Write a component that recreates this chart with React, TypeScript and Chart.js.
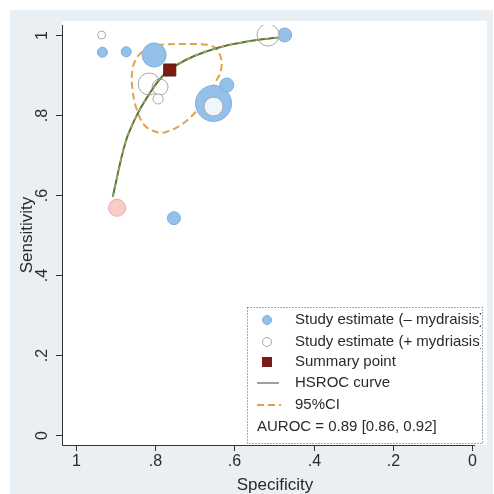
import React, { useEffect, useRef } from "react";
import { Chart, registerables } from "chart.js";

Chart.register(...registerables);

// ---- data ----
const xTickValues = [1, 0.8, 0.6, 0.4, 0.2, 0];
const xTickLabels = ["1", ".8", ".6", ".4", ".2", "0"];
const yTickValues = [0, 0.2, 0.4, 0.6, 0.8, 1];
const yTickLabels = ["0", ".2", ".4", ".6", ".8", "1"];

// Study estimates without mydriasis (blue)
const blueSpec = [0.473, 0.933, 0.873, 0.8025, 0.6525, 0.619, 0.7525];
const blueSens = [1.0, 0.957, 0.958, 0.95, 0.829, 0.875, 0.542];
const blueSize = [7, 5, 5, 12, 18, 7, 6.5];

// Study estimates with mydriasis (hollow)
const hollowSpec = [0.515, 0.935, 0.815, 0.7875, 0.7925, 0.6525];
const hollowSens = [1.0, 1.0, 0.8775, 0.87, 0.84, 0.821];
const hollowSize = [11, 4, 11, 8, 5, 9.5];

// pink-tinted study estimate
const pinkSpec = [0.896];
const pinkSens = [0.568];
const pinkSize = [8.5];

// Summary point
const summarySpec = [0.763];
const summarySens = [0.9125];

// HSROC curve
const curveSpec = [0.907, 0.897, 0.887, 0.873, 0.86, 0.848, 0.835, 0.819, 0.79, 0.765, 0.723, 0.673, 0.615, 0.56, 0.507, 0.49];
const curveSens = [0.595, 0.64, 0.685, 0.7375, 0.77, 0.796, 0.82, 0.846, 0.8875, 0.912, 0.9375, 0.958, 0.975, 0.985, 0.992, 0.994];

// 95% confidence region
const ciSpec = [0.8225, 0.79, 0.715, 0.665, 0.645, 0.6325, 0.635, 0.6475, 0.67, 0.6975, 0.735, 0.7725, 0.7975, 0.8275, 0.8475, 0.8575, 0.8575, 0.845, 0.8225];
const ciSens = [0.9675, 0.975, 0.9775, 0.975, 0.965, 0.9375, 0.9075, 0.8825, 0.845, 0.8075, 0.775, 0.7575, 0.7575, 0.775, 0.8175, 0.8675, 0.9125, 0.945, 0.9675];

const legendLabels = [
  "Study estimate (\u2013 mydraisis)",
  "Study estimate (+ mydriasis)",
  "Summary point",
  "HSROC curve",
  "95%CI",
];
const aurocText = "AUROC = 0.89 [0.86, 0.92]";

const FONT = '"Liberation Sans", Arial, sans-serif';
const BLUE = "#94c1ea";
const BLUE_EDGE = "#7eaee0";
const HOLLOW_EDGE = "#a9a9a9";
const SUMMARY = "#7a1c16";
const CURVE = "#4d7a3e";
const CI = "#e2a14c";
const TEXT = "#2a2a2a";

const pts = (xs: number[], ys: number[]) => xs.map((x, i) => ({ x, y: ys[i] }));

const decorPlugin = {
  id: "decor",
  beforeDraw(chart: any) {
    const ctx = chart.ctx;
    const { width, height } = chart;
    ctx.save();
    ctx.fillStyle = "#ffffff";
    ctx.fillRect(0, 0, width, height);
    ctx.fillStyle = "#eaeff3";
    ctx.fillRect(10, 10, width - 11, height - 10);
    ctx.fillStyle = "#ffffff";
    const xs = chart.scales.x;
    const ys = chart.scales.y;
    ctx.fillRect(xs.left, 21, 487 - xs.left, ys.bottom - 21);
    ctx.restore();
  },
  afterDraw(chart: any) {
    const ctx = chart.ctx;
    const xs = chart.scales.x;
    const ys = chart.scales.y;
    ctx.save();
    // axis lines
    ctx.strokeStyle = "#333";
    ctx.lineWidth = 1;
    ctx.beginPath();
    ctx.moveTo(xs.left + 0.5, ys.top);
    ctx.lineTo(xs.left + 0.5, ys.bottom + 0.5);
    ctx.lineTo(xs.right, ys.bottom + 0.5);
    ctx.stroke();
    // ticks
    ctx.fillStyle = TEXT;
    ctx.font = `16px ${FONT}`;
    ctx.textAlign = "center";
    ctx.textBaseline = "middle";
    xTickValues.forEach((v, i) => {
      const px = Math.round(xs.getPixelForValue(v)) + 0.5;
      ctx.beginPath();
      ctx.moveTo(px, ys.bottom);
      ctx.lineTo(px, ys.bottom + 6);
      ctx.stroke();
      ctx.fillText(xTickLabels[i], px, 462);
    });
    yTickValues.forEach((v, i) => {
      const py = Math.round(ys.getPixelForValue(v)) + 0.5;
      ctx.beginPath();
      ctx.moveTo(xs.left - 6, py);
      ctx.lineTo(xs.left, py);
      ctx.stroke();
      ctx.save();
      ctx.translate(43, py);
      ctx.rotate(-Math.PI / 2);
      ctx.fillText(yTickLabels[i], 0, 0);
      ctx.restore();
    });
    // titles
    ctx.font = `17px ${FONT}`;
    ctx.fillText("Specificity", 275, 485);
    ctx.save();
    ctx.translate(27, 235);
    ctx.rotate(-Math.PI / 2);
    ctx.fillText("Sensitivity", 0, 0);
    ctx.restore();

    // legend
    const L = 247, T = 307, R = 482, B = 443;
    ctx.fillStyle = "#ffffff";
    ctx.fillRect(L, T, R - L, B - T);
    ctx.strokeStyle = "#555";
    ctx.setLineDash([1, 2]);
    ctx.strokeRect(L + 0.5, T + 0.5, R - L, B - T);
    ctx.setLineDash([]);
    const rows = [320, 342, 362, 383, 405];
    const mx = 267;
    // blue
    ctx.fillStyle = BLUE;
    ctx.strokeStyle = BLUE_EDGE;
    ctx.beginPath();
    ctx.arc(mx, rows[0], 4.5, 0, Math.PI * 2);
    ctx.fill();
    ctx.stroke();
    // hollow
    ctx.fillStyle = "#fff";
    ctx.strokeStyle = HOLLOW_EDGE;
    ctx.beginPath();
    ctx.arc(mx, rows[1], 4.5, 0, Math.PI * 2);
    ctx.fill();
    ctx.stroke();
    // square
    ctx.fillStyle = SUMMARY;
    ctx.fillRect(mx - 5, rows[2] - 5, 10, 10);
    // hsroc line
    ctx.strokeStyle = "#ab9c9c";
    ctx.lineWidth = 2;
    ctx.beginPath();
    ctx.moveTo(257, rows[3]);
    ctx.lineTo(279, rows[3]);
    ctx.stroke();
    // ci line
    ctx.strokeStyle = CI;
    ctx.setLineDash([7, 4]);
    ctx.beginPath();
    ctx.moveTo(257, rows[4]);
    ctx.lineTo(281, rows[4]);
    ctx.stroke();
    ctx.setLineDash([]);
    // texts
    ctx.save();
    ctx.beginPath();
    ctx.rect(L, T, R - L - 1, B - T);
    ctx.clip();
    ctx.fillStyle = TEXT;
    ctx.font = `15px ${FONT}`;
    ctx.textAlign = "left";
    ctx.textBaseline = "middle";
    legendLabels.forEach((t, i) => ctx.fillText(t, 295, rows[i]));
    ctx.fillText(aurocText, 257, 427);
    ctx.restore();
    ctx.restore();
  },
};

export default function App() {
  const ref = useRef<HTMLCanvasElement | null>(null);
  useEffect(() => {
    document.body.style.margin = "0";
    const canvas = ref.current!;
    const chart = new Chart(canvas, {
      type: "scatter",
      data: {
        datasets: [
          {
            label: "Summary point",
            data: pts(summarySpec, summarySens),
            pointStyle: "rect",
            pointRadius: 8.5,
            backgroundColor: SUMMARY,
            borderColor: "#5e1410",
            borderWidth: 1,
            order: 0,
          } as any,
          {
            label: "HSROC overlay",
            data: pts(curveSpec, curveSens),
            showLine: true,
            pointRadius: 0,
            borderColor: "#d9b060",
            borderWidth: 1,
            borderDash: [4, 5],
            tension: 0.4,
            order: 1,
          },
          {
            label: "HSROC curve",
            data: pts(curveSpec, curveSens),
            showLine: true,
            pointRadius: 0,
            borderColor: CURVE,
            borderWidth: 2,
            tension: 0.4,
            order: 2,
          },
          {
            label: "Study estimate (+ mydriasis)",
            data: pts(hollowSpec, hollowSens),
            pointRadius: hollowSize,
            backgroundColor: "rgba(255,255,255,0.85)",
            borderColor: HOLLOW_EDGE,
            borderWidth: 1,
            order: 3,
          },
          {
            label: "pink",
            data: pts(pinkSpec, pinkSens),
            pointRadius: pinkSize,
            backgroundColor: "#f7cdc8",
            borderColor: "#e9aaa2",
            borderWidth: 1,
            order: 3,
          },
          {
            label: "Study estimate (- mydraisis)",
            data: pts(blueSpec, blueSens),
            pointRadius: blueSize,
            backgroundColor: BLUE,
            borderColor: BLUE_EDGE,
            borderWidth: 1,
            order: 4,
          },
          {
            label: "95%CI",
            data: pts(ciSpec, ciSens),
            showLine: true,
            pointRadius: 0,
            borderColor: CI,
            borderWidth: 2,
            borderDash: [7, 4],
            tension: 0.35,
            order: 5,
          },
        ],
      },
      options: {
        animation: false,
        responsive: false,
        maintainAspectRatio: false,
        layout: { padding: { left: 62, top: 25, right: 15, bottom: 49 } },
        plugins: { legend: { display: false }, tooltip: { enabled: false } },
        scales: {
          x: { type: "linear", display: false, reverse: true, min: -0.0075, max: 1.035 },
          y: { type: "linear", display: false, min: -0.025, max: 1.025 },
        },
      },
      plugins: [decorPlugin],
    });
    return () => chart.destroy();
  }, []);
  return (
    <div style={{ width: 494, height: 494 }}>
      <canvas ref={ref} width={494} height={494} style={{ display: "block" }} />
    </div>
  );
}
